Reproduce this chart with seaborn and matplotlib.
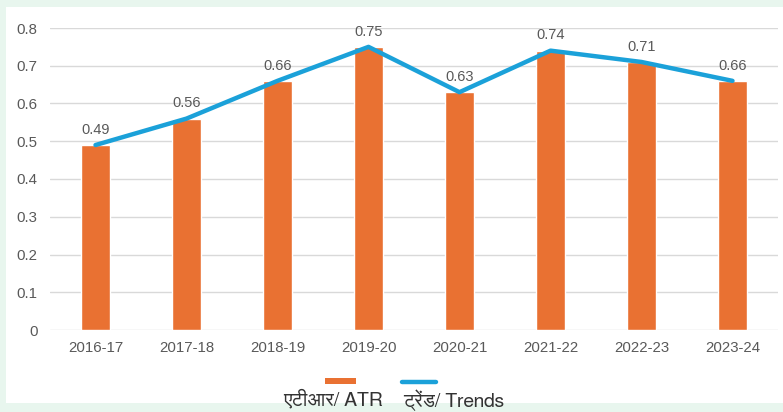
import numpy as np
import matplotlib
matplotlib.use("Agg")
import matplotlib.pyplot as plt
import matplotlib.font_manager as fm
from matplotlib.ft2font import FT2Font
from matplotlib.patches import Rectangle
from matplotlib.lines import Line2D
import seaborn as sns
import pandas as pd

years = ['2016-17', '2017-18', '2018-19', '2019-20', '2020-21', '2021-22', '2022-23', '2023-24']
atr = [0.49, 0.56, 0.66, 0.75, 0.63, 0.74, 0.71, 0.66]
bar_label = 'एटीआर/ ATR'
line_label = 'ट्रेंड/ Trends'

df = pd.DataFrame({'year': years, 'atr': atr})

# find a font that has Devanagari glyphs, prefer a proportional sans one
candidates = []
for f in fm.fontManager.ttflist:
    try:
        if FT2Font(f.fname).get_char_index(0x090F):
            candidates.append(f.name)
    except Exception:
        pass
candidates = sorted(set(candidates),
                    key=lambda n: ('Mono' in n or 'Courier' in n, 'Sans' not in n, n))
deva_font = candidates[0] if candidates else None

sns.set_theme(style='white')
plt.rcParams['font.family'] = ['Liberation Sans', 'DejaVu Sans']
legend_family = [deva_font, 'Liberation Sans'] if deva_font else ['Liberation Sans', 'DejaVu Sans']

orange = '#E97132'
blue = '#1BA1D9'
grey = '#595959'

fig = plt.figure(figsize=(7.83, 4.12), dpi=100)
fig.patch.set_facecolor('#e8f6ee')
fig.patches.append(Rectangle((6 / 783, 1 - 403 / 412), 777 / 783, 396 / 412,
                             transform=fig.transFigure, facecolor='white',
                             edgecolor='none', zorder=-5))

ax = fig.add_axes([50 / 783, 1 - 330 / 412, 728 / 783, 302 / 412])
ax.set_facecolor('none')
ax.set_zorder(2)

sns.barplot(data=df, x='year', y='atr', color=orange, width=0.31,
            saturation=1, ax=ax, zorder=2)
sns.lineplot(x=np.arange(len(years)), y=atr, color=blue, linewidth=3.2,
             ax=ax, zorder=3)

for i, v in enumerate(atr):
    ax.annotate(f'{v:.2f}', (i, v), xytext=(0, 6), textcoords='offset points',
                ha='center', va='bottom', fontsize=10.5, color=grey)

ax.set_ylim(0, 0.8)
ax.set_xlim(-0.5, len(years) - 0.5)
ax.set_yticks(np.arange(0, 0.81, 0.1))
ax.set_yticklabels(['0'] + [f'{t:.1f}' for t in np.arange(0.1, 0.81, 0.1)])
ax.yaxis.grid(True, color='#d9d9d9', linewidth=1)
ax.set_axisbelow(True)
for s in ax.spines.values():
    s.set_visible(False)
ax.tick_params(axis='both', length=0, labelsize=10.8, labelcolor=grey)
ax.tick_params(axis='x', pad=8)
ax.tick_params(axis='y', pad=9)
ax.set_xlabel('')
ax.set_ylabel('')

# legend: key above, label below
fig.patches.append(Rectangle((325 / 783, 1 - 384 / 412), 31 / 783, 6 / 412,
                             transform=fig.transFigure, facecolor=orange,
                             edgecolor='none'))
fig.lines.append(Line2D([402 / 783, 436 / 783], [1 - 382 / 412, 1 - 382 / 412],
                        transform=fig.transFigure, color=blue, linewidth=3.2))
fig.text(333 / 783, 1 - 400 / 412, bar_label, ha='center', va='center',
         fontsize=14, color='#333333', family=legend_family)
fig.text(403 / 783, 1 - 400 / 412, line_label, ha='left', va='center',
         fontsize=14, color='#333333', family=legend_family)

fig.savefig('out.png', dpi=100, facecolor=fig.get_facecolor())
